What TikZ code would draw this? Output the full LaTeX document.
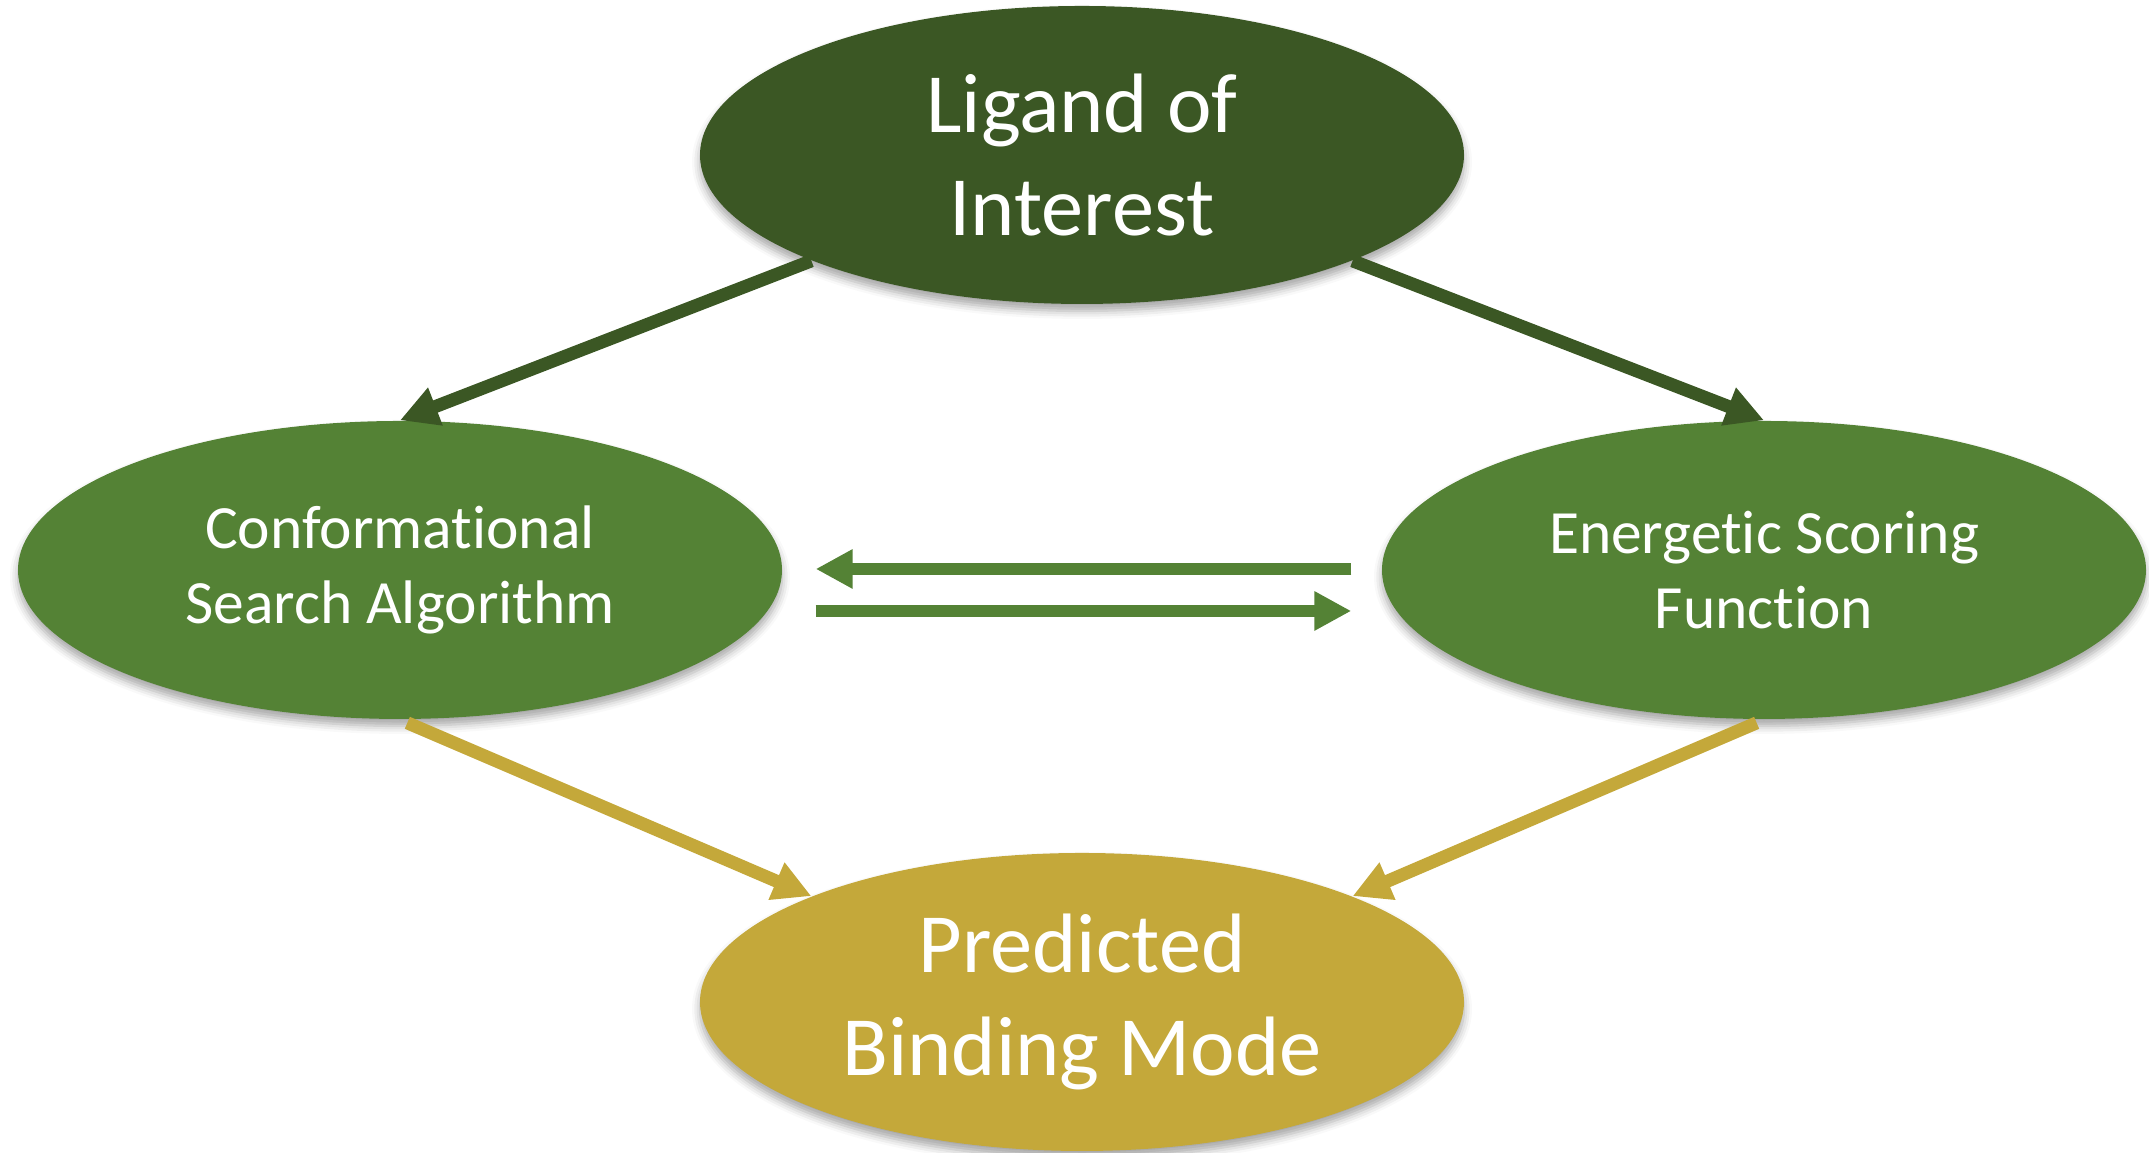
\documentclass[tikz,border=0pt]{standalone}
\usepackage{fontspec}
\setmainfont{Carlito}[RawFeature={-liga;-clig;-dlig}]
\usepackage{tikz}
\usetikzlibrary{arrows.meta,positioning,shapes.geometric,shadows.blur}
\definecolor{ligdark}{RGB}{59,87,36}
\definecolor{leafgreen}{RGB}{84,130,53}
\definecolor{goldfill}{RGB}{196,168,58}

\begin{document}
\begin{tikzpicture}[
  oval/.style={ellipse,minimum width=7.64cm,minimum height=2.98cm,inner sep=0pt,align=center,text=white,
    blur shadow={shadow xshift=0pt,shadow yshift=-0.07cm,shadow blur radius=0.08cm,shadow opacity=35}},
  bigtxt/.style={font=\fontsize{24}{29.5}\selectfont},
  midtxt/.style={font=\fontsize{17.5}{21.5}\selectfont},
  dg/.style={-{Triangle[length=0.38cm,width=0.38cm]},line width=0.13cm,ligdark},
  hg/.style={-{Triangle[length=0.37cm,width=0.37cm]},line width=0.125cm,leafgreen},
  yg/.style={-{Triangle[length=0.38cm,width=0.38cm]},line width=0.13cm,goldfill}]
\useasboundingbox (0,0) rectangle (21.49,11.53);
\node[oval,bigtxt,fill=ligdark] (lig) at (10.82,9.98) {Ligand of\\Interest};
\node[oval,midtxt,fill=leafgreen] (conf) at (4.00,5.83) {Conformat\kern0pt ional\\Search Algorithm};
\node[oval,midtxt,fill=leafgreen] (score) at (17.64,5.83) {Energet\kern0pt ic Scoring\\Function};
\node[oval,bigtxt,fill=goldfill] (pred) at (10.82,1.51) {Predicted\\Binding Mode};
% ligand feeds both parts
\draw[dg] (lig.south west) -- (conf.north);
\draw[dg] (lig.south east) -- (score.north);
% search <-> scoring loop
\draw[hg,shorten <=0.30cm,shorten >=0.33cm] ([yshift=0.01cm]score.west) -- ([yshift=0.01cm]conf.east);
\draw[hg,shorten <=0.33cm,shorten >=0.30cm] ([yshift=-0.41cm]conf.east) -- ([yshift=-0.41cm]score.west);
% both give the predicted pose
\draw[yg,shorten <=0.08cm] (conf.south) -- (pred.north west);
\draw[yg,shorten <=0.08cm] (score.south) -- (pred.north east);
\end{tikzpicture}
\end{document}
